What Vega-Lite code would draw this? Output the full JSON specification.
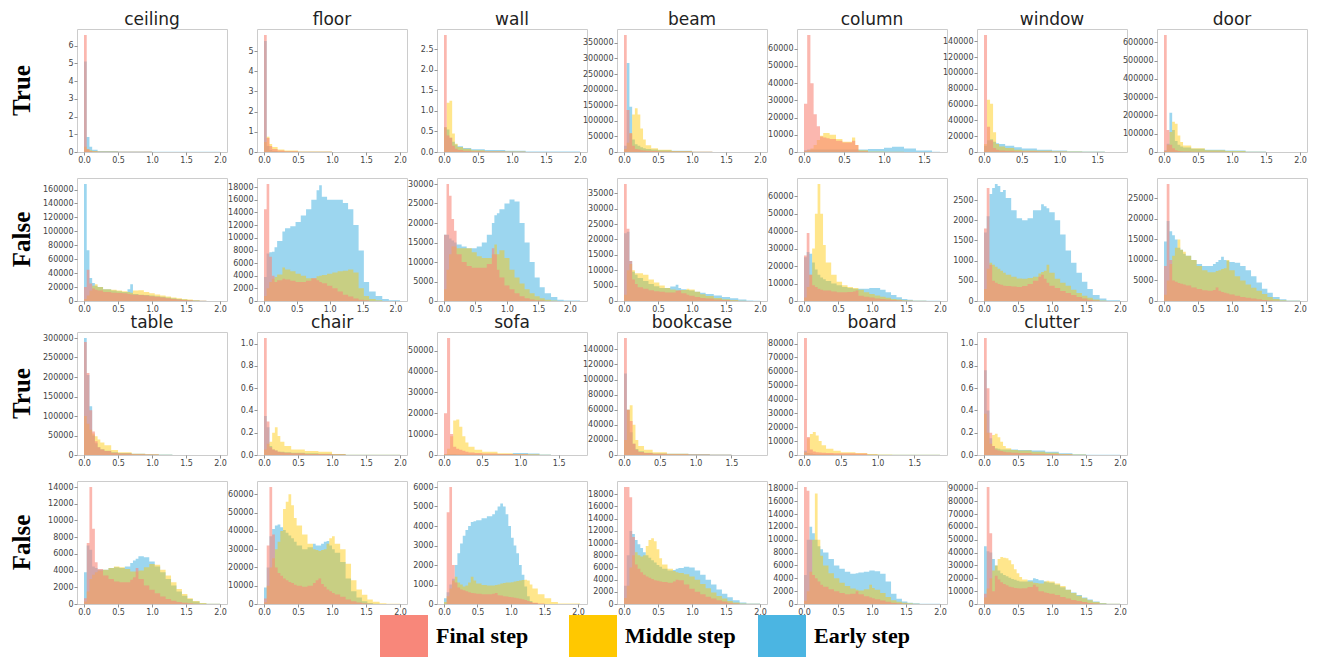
{
"$schema": "https://vega.github.io/schema/vega-lite/v6.json",
"background": "white",
"padding": {"left": 10, "top": 11, "right": 5, "bottom": 5},
"data": {"values": [
{"c":"ceiling","t":"True","x":0,"r":6.6,"m":0.3,"e":5.1},
{"c":"ceiling","t":"True","x":0.04,"r":0.15,"m":0.15,"e":0.85},
{"c":"ceiling","t":"True","x":0.08,"r":0.05,"m":0.1,"e":0.3},
{"c":"ceiling","t":"True","x":0.12,"r":0.03,"m":0.06,"e":0.12},
{"c":"ceiling","t":"True","x":0.2,"r":0.02,"m":0.03,"e":0.05},
{"c":"ceiling","t":"True","x":0.5,"r":0.01,"m":0.01,"e":0.03},
{"c":"ceiling","t":"True","x":1.0,"r":0,"m":0,"e":0.01},
{"c":"ceiling","t":"True","x":2.0,"r":0,"m":0,"e":0},
{"c":"floor","t":"True","x":0,"r":5.8,"m":0.5,"e":5.5},
{"c":"floor","t":"True","x":0.04,"r":0.7,"m":0.75,"e":0.3},
{"c":"floor","t":"True","x":0.08,"r":0.3,"m":0.4,"e":0.1},
{"c":"floor","t":"True","x":0.12,"r":0.15,"m":0.25,"e":0.05},
{"c":"floor","t":"True","x":0.2,"r":0.08,"m":0.12,"e":0.03},
{"c":"floor","t":"True","x":0.3,"r":0.04,"m":0.07,"e":0.02},
{"c":"floor","t":"True","x":0.5,"r":0.01,"m":0.02,"e":0.01},
{"c":"floor","t":"True","x":1.0,"r":0,"m":0.005,"e":0},
{"c":"floor","t":"True","x":2.0,"r":0,"m":0,"e":0},
{"c":"wall","t":"True","x":0,"r":2.85,"m":0.6,"e":0.6},
{"c":"wall","t":"True","x":0.04,"r":0.4,"m":1.2,"e":0.55},
{"c":"wall","t":"True","x":0.08,"r":0.35,"m":1.25,"e":0.35},
{"c":"wall","t":"True","x":0.12,"r":0.15,"m":0.45,"e":0.25},
{"c":"wall","t":"True","x":0.16,"r":0.08,"m":0.2,"e":0.18},
{"c":"wall","t":"True","x":0.2,"r":0.05,"m":0.12,"e":0.14},
{"c":"wall","t":"True","x":0.28,"r":0.03,"m":0.08,"e":0.1},
{"c":"wall","t":"True","x":0.4,"r":0.02,"m":0.04,"e":0.07},
{"c":"wall","t":"True","x":0.6,"r":0.01,"m":0.02,"e":0.05},
{"c":"wall","t":"True","x":0.9,"r":0.005,"m":0.01,"e":0.03},
{"c":"wall","t":"True","x":1.2,"r":0,"m":0,"e":0.01},
{"c":"wall","t":"True","x":2.0,"r":0,"m":0,"e":0},
{"c":"beam","t":"True","x":0,"r":375000,"m":10000,"e":20000},
{"c":"beam","t":"True","x":0.04,"r":135000,"m":30000,"e":285000},
{"c":"beam","t":"True","x":0.08,"r":60000,"m":60000,"e":145000},
{"c":"beam","t":"True","x":0.12,"r":20000,"m":120000,"e":40000},
{"c":"beam","t":"True","x":0.16,"r":10000,"m":140000,"e":25000},
{"c":"beam","t":"True","x":0.2,"r":8000,"m":120000,"e":20000},
{"c":"beam","t":"True","x":0.24,"r":6000,"m":75000,"e":15000},
{"c":"beam","t":"True","x":0.28,"r":5000,"m":40000,"e":12000},
{"c":"beam","t":"True","x":0.32,"r":4000,"m":22000,"e":10000},
{"c":"beam","t":"True","x":0.4,"r":3000,"m":12000,"e":8000},
{"c":"beam","t":"True","x":0.5,"r":2000,"m":7000,"e":6000},
{"c":"beam","t":"True","x":0.7,"r":1500,"m":3000,"e":4000},
{"c":"beam","t":"True","x":1.0,"r":500,"m":1000,"e":1000},
{"c":"beam","t":"True","x":1.3,"r":0,"m":200,"e":200},
{"c":"beam","t":"True","x":2.0,"r":0,"m":0,"e":0},
{"c":"column","t":"True","x":0,"r":28000,"m":500,"e":1000},
{"c":"column","t":"True","x":0.04,"r":68000,"m":1000,"e":1500},
{"c":"column","t":"True","x":0.08,"r":40000,"m":2000,"e":1500},
{"c":"column","t":"True","x":0.12,"r":22000,"m":4000,"e":1500},
{"c":"column","t":"True","x":0.16,"r":15000,"m":7000,"e":1500},
{"c":"column","t":"True","x":0.2,"r":9000,"m":9500,"e":1500},
{"c":"column","t":"True","x":0.24,"r":8500,"m":11000,"e":1500},
{"c":"column","t":"True","x":0.28,"r":8000,"m":11000,"e":1500},
{"c":"column","t":"True","x":0.32,"r":7500,"m":10000,"e":1500},
{"c":"column","t":"True","x":0.4,"r":6500,"m":7500,"e":1500},
{"c":"column","t":"True","x":0.48,"r":5500,"m":6000,"e":1500},
{"c":"column","t":"True","x":0.6,"r":6500,"m":8500,"e":1500},
{"c":"column","t":"True","x":0.64,"r":4000,"m":4000,"e":1500},
{"c":"column","t":"True","x":0.68,"r":500,"m":1000,"e":1500},
{"c":"column","t":"True","x":0.8,"r":0,"m":300,"e":1800},
{"c":"column","t":"True","x":1.0,"r":0,"m":200,"e":2500},
{"c":"column","t":"True","x":1.1,"r":0,"m":100,"e":3000},
{"c":"column","t":"True","x":1.25,"r":0,"m":0,"e":2000},
{"c":"column","t":"True","x":1.4,"r":0,"m":0,"e":800},
{"c":"column","t":"True","x":1.6,"r":0,"m":0,"e":200},
{"c":"column","t":"True","x":1.7,"r":0,"m":0,"e":0},
{"c":"window","t":"True","x":0,"r":148000,"m":10000,"e":8000},
{"c":"window","t":"True","x":0.04,"r":32000,"m":66000,"e":15000},
{"c":"window","t":"True","x":0.08,"r":15000,"m":61000,"e":16000},
{"c":"window","t":"True","x":0.12,"r":5000,"m":25000,"e":13000},
{"c":"window","t":"True","x":0.16,"r":3000,"m":10000,"e":11000},
{"c":"window","t":"True","x":0.2,"r":2000,"m":7000,"e":10000},
{"c":"window","t":"True","x":0.28,"r":1500,"m":5000,"e":8000},
{"c":"window","t":"True","x":0.4,"r":1000,"m":3000,"e":6000},
{"c":"window","t":"True","x":0.5,"r":800,"m":2000,"e":4500},
{"c":"window","t":"True","x":0.7,"r":500,"m":1500,"e":3000},
{"c":"window","t":"True","x":0.9,"r":300,"m":1000,"e":2000},
{"c":"window","t":"True","x":1.1,"r":100,"m":500,"e":1000},
{"c":"window","t":"True","x":1.3,"r":0,"m":200,"e":500},
{"c":"window","t":"True","x":1.6,"r":0,"m":0,"e":100},
{"c":"window","t":"True","x":1.8,"r":0,"m":0,"e":0},
{"c":"door","t":"True","x":0,"r":640000,"m":5000,"e":10000},
{"c":"door","t":"True","x":0.04,"r":120000,"m":40000,"e":45000},
{"c":"door","t":"True","x":0.08,"r":40000,"m":110000,"e":215000},
{"c":"door","t":"True","x":0.12,"r":20000,"m":165000,"e":120000},
{"c":"door","t":"True","x":0.16,"r":10000,"m":155000,"e":60000},
{"c":"door","t":"True","x":0.2,"r":6000,"m":90000,"e":40000},
{"c":"door","t":"True","x":0.24,"r":4000,"m":55000,"e":30000},
{"c":"door","t":"True","x":0.28,"r":3000,"m":35000,"e":25000},
{"c":"door","t":"True","x":0.4,"r":2000,"m":20000,"e":18000},
{"c":"door","t":"True","x":0.6,"r":1000,"m":10000,"e":12000},
{"c":"door","t":"True","x":0.9,"r":500,"m":5000,"e":8000},
{"c":"door","t":"True","x":1.2,"r":0,"m":2000,"e":3000},
{"c":"door","t":"True","x":1.5,"r":0,"m":500,"e":500},
{"c":"door","t":"True","x":2.0,"r":0,"m":0,"e":0},
{"c":"ceiling","t":"False","x":0,"r":20000,"m":3000,"e":168000},
{"c":"ceiling","t":"False","x":0.04,"r":45000,"m":8000,"e":73000},
{"c":"ceiling","t":"False","x":0.08,"r":25000,"m":15000,"e":33000},
{"c":"ceiling","t":"False","x":0.12,"r":18000,"m":22000,"e":26000},
{"c":"ceiling","t":"False","x":0.16,"r":16000,"m":24000,"e":22000},
{"c":"ceiling","t":"False","x":0.2,"r":15000,"m":20000,"e":20000},
{"c":"ceiling","t":"False","x":0.28,"r":13000,"m":17000,"e":17000},
{"c":"ceiling","t":"False","x":0.4,"r":12000,"m":16000,"e":15000},
{"c":"ceiling","t":"False","x":0.48,"r":11500,"m":15000,"e":14000},
{"c":"ceiling","t":"False","x":0.56,"r":11000,"m":14000,"e":13000},
{"c":"ceiling","t":"False","x":0.64,"r":10000,"m":13000,"e":17000},
{"c":"ceiling","t":"False","x":0.68,"r":9500,"m":12000,"e":24000},
{"c":"ceiling","t":"False","x":0.72,"r":9000,"m":15000,"e":10000},
{"c":"ceiling","t":"False","x":0.8,"r":8500,"m":15500,"e":9000},
{"c":"ceiling","t":"False","x":0.88,"r":8000,"m":13000,"e":8500},
{"c":"ceiling","t":"False","x":0.96,"r":7000,"m":11000,"e":8000},
{"c":"ceiling","t":"False","x":1.04,"r":6000,"m":9500,"e":7000},
{"c":"ceiling","t":"False","x":1.12,"r":5000,"m":8000,"e":6000},
{"c":"ceiling","t":"False","x":1.2,"r":4000,"m":6500,"e":5000},
{"c":"ceiling","t":"False","x":1.28,"r":3000,"m":5000,"e":4000},
{"c":"ceiling","t":"False","x":1.36,"r":2000,"m":4000,"e":3000},
{"c":"ceiling","t":"False","x":1.44,"r":1500,"m":3000,"e":2000},
{"c":"ceiling","t":"False","x":1.52,"r":1000,"m":2000,"e":1500},
{"c":"ceiling","t":"False","x":1.6,"r":500,"m":1000,"e":1000},
{"c":"ceiling","t":"False","x":1.7,"r":200,"m":400,"e":400},
{"c":"ceiling","t":"False","x":1.8,"r":0,"m":100,"e":100},
{"c":"ceiling","t":"False","x":2.0,"r":0,"m":0,"e":0},
{"c":"floor","t":"False","x":0,"r":14500,"m":800,"e":3800},
{"c":"floor","t":"False","x":0.04,"r":18500,"m":2000,"e":7500},
{"c":"floor","t":"False","x":0.08,"r":7000,"m":3000,"e":7700},
{"c":"floor","t":"False","x":0.12,"r":4000,"m":3500,"e":7800},
{"c":"floor","t":"False","x":0.16,"r":3000,"m":3800,"e":8500},
{"c":"floor","t":"False","x":0.2,"r":3300,"m":4200,"e":9500},
{"c":"floor","t":"False","x":0.28,"r":3500,"m":5300,"e":11000},
{"c":"floor","t":"False","x":0.32,"r":3400,"m":5000,"e":11500},
{"c":"floor","t":"False","x":0.4,"r":3200,"m":4700,"e":11800},
{"c":"floor","t":"False","x":0.48,"r":3000,"m":4300,"e":12500},
{"c":"floor","t":"False","x":0.56,"r":3000,"m":4000,"e":13500},
{"c":"floor","t":"False","x":0.64,"r":3200,"m":3600,"e":14500},
{"c":"floor","t":"False","x":0.72,"r":3600,"m":3600,"e":16000},
{"c":"floor","t":"False","x":0.8,"r":3300,"m":3900,"e":17500},
{"c":"floor","t":"False","x":0.84,"r":3000,"m":4000,"e":18300},
{"c":"floor","t":"False","x":0.88,"r":2800,"m":4100,"e":16500},
{"c":"floor","t":"False","x":0.96,"r":2400,"m":4300,"e":16000},
{"c":"floor","t":"False","x":1.04,"r":2000,"m":4500,"e":16000},
{"c":"floor","t":"False","x":1.12,"r":1500,"m":4700,"e":16000},
{"c":"floor","t":"False","x":1.2,"r":1000,"m":4800,"e":15500},
{"c":"floor","t":"False","x":1.28,"r":700,"m":5000,"e":14500},
{"c":"floor","t":"False","x":1.36,"r":400,"m":4500,"e":12000},
{"c":"floor","t":"False","x":1.44,"r":200,"m":2000,"e":8000},
{"c":"floor","t":"False","x":1.52,"r":100,"m":800,"e":3000},
{"c":"floor","t":"False","x":1.6,"r":0,"m":300,"e":1500},
{"c":"floor","t":"False","x":1.7,"r":0,"m":100,"e":800},
{"c":"floor","t":"False","x":1.8,"r":0,"m":0,"e":300},
{"c":"floor","t":"False","x":1.9,"r":0,"m":0,"e":100},
{"c":"floor","t":"False","x":2.07,"r":0,"m":0,"e":0},
{"c":"wall","t":"False","x":0,"r":17000,"m":3000,"e":17000},
{"c":"wall","t":"False","x":0.04,"r":30000,"m":8000,"e":17000},
{"c":"wall","t":"False","x":0.08,"r":27000,"m":12000,"e":16000},
{"c":"wall","t":"False","x":0.12,"r":21000,"m":14000,"e":15500},
{"c":"wall","t":"False","x":0.16,"r":18000,"m":14000,"e":15000},
{"c":"wall","t":"False","x":0.2,"r":12000,"m":13500,"e":14500},
{"c":"wall","t":"False","x":0.28,"r":10000,"m":13500,"e":14000},
{"c":"wall","t":"False","x":0.36,"r":9000,"m":13500,"e":13500},
{"c":"wall","t":"False","x":0.44,"r":8500,"m":12500,"e":13500},
{"c":"wall","t":"False","x":0.52,"r":8500,"m":11500,"e":14000},
{"c":"wall","t":"False","x":0.6,"r":8500,"m":11000,"e":15000},
{"c":"wall","t":"False","x":0.68,"r":9500,"m":11000,"e":17000},
{"c":"wall","t":"False","x":0.76,"r":13500,"m":12000,"e":20000},
{"c":"wall","t":"False","x":0.8,"r":12000,"m":14500,"e":22000},
{"c":"wall","t":"False","x":0.84,"r":8000,"m":12000,"e":22500},
{"c":"wall","t":"False","x":0.88,"r":6000,"m":13000,"e":23500},
{"c":"wall","t":"False","x":0.96,"r":4000,"m":11000,"e":25000},
{"c":"wall","t":"False","x":1.04,"r":3000,"m":8000,"e":26000},
{"c":"wall","t":"False","x":1.12,"r":2000,"m":6000,"e":25500},
{"c":"wall","t":"False","x":1.2,"r":1200,"m":4500,"e":20000},
{"c":"wall","t":"False","x":1.28,"r":700,"m":3000,"e":15000},
{"c":"wall","t":"False","x":1.36,"r":400,"m":2000,"e":10000},
{"c":"wall","t":"False","x":1.44,"r":200,"m":1200,"e":6000},
{"c":"wall","t":"False","x":1.52,"r":100,"m":700,"e":3500},
{"c":"wall","t":"False","x":1.6,"r":0,"m":300,"e":2000},
{"c":"wall","t":"False","x":1.7,"r":0,"m":100,"e":1000},
{"c":"wall","t":"False","x":1.8,"r":0,"m":0,"e":300},
{"c":"wall","t":"False","x":1.9,"r":0,"m":0,"e":100},
{"c":"wall","t":"False","x":2.16,"r":0,"m":0,"e":0},
{"c":"beam","t":"False","x":0,"r":38000,"m":2000,"e":22000},
{"c":"beam","t":"False","x":0.04,"r":23500,"m":10000,"e":22500},
{"c":"beam","t":"False","x":0.08,"r":13000,"m":12000,"e":13000},
{"c":"beam","t":"False","x":0.12,"r":7000,"m":10000,"e":9500},
{"c":"beam","t":"False","x":0.16,"r":5500,"m":9000,"e":8500},
{"c":"beam","t":"False","x":0.2,"r":4500,"m":9000,"e":7500},
{"c":"beam","t":"False","x":0.28,"r":4000,"m":8500,"e":6500},
{"c":"beam","t":"False","x":0.36,"r":3500,"m":7000,"e":5500},
{"c":"beam","t":"False","x":0.44,"r":3200,"m":6000,"e":4800},
{"c":"beam","t":"False","x":0.52,"r":3000,"m":5000,"e":4200},
{"c":"beam","t":"False","x":0.6,"r":2800,"m":4200,"e":4200},
{"c":"beam","t":"False","x":0.68,"r":2800,"m":3700,"e":4700},
{"c":"beam","t":"False","x":0.76,"r":3300,"m":3500,"e":5300},
{"c":"beam","t":"False","x":0.8,"r":3500,"m":3400,"e":4200},
{"c":"beam","t":"False","x":0.84,"r":2500,"m":3600,"e":3800},
{"c":"beam","t":"False","x":0.92,"r":2000,"m":4000,"e":3600},
{"c":"beam","t":"False","x":0.96,"r":1700,"m":3700,"e":3400},
{"c":"beam","t":"False","x":1.04,"r":1300,"m":3000,"e":3000},
{"c":"beam","t":"False","x":1.12,"r":1000,"m":2200,"e":2700},
{"c":"beam","t":"False","x":1.2,"r":800,"m":1600,"e":2300},
{"c":"beam","t":"False","x":1.32,"r":500,"m":1000,"e":1800},
{"c":"beam","t":"False","x":1.44,"r":300,"m":600,"e":1300},
{"c":"beam","t":"False","x":1.56,"r":100,"m":300,"e":900},
{"c":"beam","t":"False","x":1.68,"r":0,"m":100,"e":500},
{"c":"beam","t":"False","x":1.8,"r":0,"m":0,"e":200},
{"c":"beam","t":"False","x":1.9,"r":0,"m":0,"e":50},
{"c":"beam","t":"False","x":2.0,"r":0,"m":0,"e":0},
{"c":"column","t":"False","x":0,"r":26000,"m":2000,"e":25000},
{"c":"column","t":"False","x":0.04,"r":39000,"m":8000,"e":28000},
{"c":"column","t":"False","x":0.08,"r":15000,"m":15000,"e":27000},
{"c":"column","t":"False","x":0.12,"r":9000,"m":30000,"e":22000},
{"c":"column","t":"False","x":0.16,"r":8000,"m":50000,"e":18000},
{"c":"column","t":"False","x":0.2,"r":7000,"m":67000,"e":15000},
{"c":"column","t":"False","x":0.24,"r":6500,"m":50000,"e":13500},
{"c":"column","t":"False","x":0.28,"r":6000,"m":32000,"e":12500},
{"c":"column","t":"False","x":0.32,"r":6000,"m":22000,"e":11500},
{"c":"column","t":"False","x":0.4,"r":5500,"m":15000,"e":10000},
{"c":"column","t":"False","x":0.48,"r":5000,"m":11000,"e":9000},
{"c":"column","t":"False","x":0.56,"r":5000,"m":9000,"e":8000},
{"c":"column","t":"False","x":0.64,"r":5200,"m":8000,"e":7500},
{"c":"column","t":"False","x":0.72,"r":5500,"m":7500,"e":7000},
{"c":"column","t":"False","x":0.76,"r":6000,"m":7500,"e":7000},
{"c":"column","t":"False","x":0.8,"r":3000,"m":6500,"e":7000},
{"c":"column","t":"False","x":0.88,"r":2500,"m":5000,"e":7000},
{"c":"column","t":"False","x":0.96,"r":2000,"m":4000,"e":7500},
{"c":"column","t":"False","x":1.04,"r":1500,"m":3200,"e":7500},
{"c":"column","t":"False","x":1.12,"r":1200,"m":2500,"e":6500},
{"c":"column","t":"False","x":1.2,"r":900,"m":1800,"e":5000},
{"c":"column","t":"False","x":1.28,"r":600,"m":1200,"e":3500},
{"c":"column","t":"False","x":1.36,"r":400,"m":800,"e":2200},
{"c":"column","t":"False","x":1.44,"r":200,"m":500,"e":1200},
{"c":"column","t":"False","x":1.52,"r":100,"m":300,"e":700},
{"c":"column","t":"False","x":1.6,"r":0,"m":100,"e":300},
{"c":"column","t":"False","x":1.8,"r":0,"m":0,"e":100},
{"c":"column","t":"False","x":2.0,"r":0,"m":0,"e":0},
{"c":"window","t":"False","x":0,"r":1800,"m":300,"e":1700},
{"c":"window","t":"False","x":0.04,"r":2800,"m":800,"e":2100},
{"c":"window","t":"False","x":0.08,"r":900,"m":950,"e":2650},
{"c":"window","t":"False","x":0.12,"r":500,"m":900,"e":2800},
{"c":"window","t":"False","x":0.16,"r":450,"m":850,"e":2900},
{"c":"window","t":"False","x":0.2,"r":420,"m":800,"e":2850},
{"c":"window","t":"False","x":0.24,"r":400,"m":750,"e":2700},
{"c":"window","t":"False","x":0.28,"r":380,"m":700,"e":2750},
{"c":"window","t":"False","x":0.32,"r":370,"m":650,"e":2550},
{"c":"window","t":"False","x":0.4,"r":360,"m":600,"e":2250},
{"c":"window","t":"False","x":0.48,"r":350,"m":560,"e":2050},
{"c":"window","t":"False","x":0.56,"r":370,"m":550,"e":2000},
{"c":"window","t":"False","x":0.64,"r":420,"m":570,"e":2050},
{"c":"window","t":"False","x":0.72,"r":500,"m":600,"e":2250},
{"c":"window","t":"False","x":0.8,"r":600,"m":680,"e":2250},
{"c":"window","t":"False","x":0.84,"r":650,"m":720,"e":2400},
{"c":"window","t":"False","x":0.88,"r":550,"m":750,"e":2350},
{"c":"window","t":"False","x":0.92,"r":450,"m":900,"e":2300},
{"c":"window","t":"False","x":0.96,"r":380,"m":700,"e":2200},
{"c":"window","t":"False","x":1.04,"r":320,"m":550,"e":2000},
{"c":"window","t":"False","x":1.12,"r":250,"m":450,"e":1650},
{"c":"window","t":"False","x":1.2,"r":200,"m":380,"e":1250},
{"c":"window","t":"False","x":1.28,"r":150,"m":280,"e":950},
{"c":"window","t":"False","x":1.36,"r":100,"m":200,"e":700},
{"c":"window","t":"False","x":1.44,"r":60,"m":130,"e":480},
{"c":"window","t":"False","x":1.52,"r":30,"m":80,"e":300},
{"c":"window","t":"False","x":1.6,"r":10,"m":40,"e":150},
{"c":"window","t":"False","x":1.7,"r":0,"m":10,"e":60},
{"c":"window","t":"False","x":1.8,"r":0,"m":0,"e":20},
{"c":"window","t":"False","x":2.0,"r":0,"m":0,"e":0},
{"c":"door","t":"False","x":0,"r":8500,"m":1500,"e":14500},
{"c":"door","t":"False","x":0.04,"r":28500,"m":5000,"e":19500},
{"c":"door","t":"False","x":0.08,"r":10000,"m":9000,"e":17000},
{"c":"door","t":"False","x":0.12,"r":5000,"m":11000,"e":16000},
{"c":"door","t":"False","x":0.16,"r":4700,"m":13000,"e":15000},
{"c":"door","t":"False","x":0.2,"r":4400,"m":15000,"e":13000},
{"c":"door","t":"False","x":0.24,"r":4200,"m":12500,"e":12500},
{"c":"door","t":"False","x":0.28,"r":4000,"m":12000,"e":11500},
{"c":"door","t":"False","x":0.32,"r":3800,"m":11000,"e":11000},
{"c":"door","t":"False","x":0.4,"r":3300,"m":10000,"e":10000},
{"c":"door","t":"False","x":0.48,"r":2900,"m":8500,"e":9000},
{"c":"door","t":"False","x":0.56,"r":2600,"m":7500,"e":8500},
{"c":"door","t":"False","x":0.64,"r":2500,"m":7000,"e":8500},
{"c":"door","t":"False","x":0.72,"r":2700,"m":7000,"e":9000},
{"c":"door","t":"False","x":0.76,"r":3300,"m":7300,"e":9500},
{"c":"door","t":"False","x":0.8,"r":2500,"m":7500,"e":10000},
{"c":"door","t":"False","x":0.84,"r":2200,"m":7800,"e":10800},
{"c":"door","t":"False","x":0.88,"r":2000,"m":8000,"e":10000},
{"c":"door","t":"False","x":0.92,"r":1800,"m":10000,"e":9800},
{"c":"door","t":"False","x":0.96,"r":1600,"m":7500,"e":9500},
{"c":"door","t":"False","x":1.04,"r":1300,"m":6000,"e":9300},
{"c":"door","t":"False","x":1.12,"r":1000,"m":5000,"e":8500},
{"c":"door","t":"False","x":1.2,"r":800,"m":4000,"e":7500},
{"c":"door","t":"False","x":1.28,"r":600,"m":3200,"e":6000},
{"c":"door","t":"False","x":1.36,"r":400,"m":2500,"e":4500},
{"c":"door","t":"False","x":1.44,"r":250,"m":1700,"e":3000},
{"c":"door","t":"False","x":1.52,"r":100,"m":1000,"e":2000},
{"c":"door","t":"False","x":1.6,"r":50,"m":500,"e":1000},
{"c":"door","t":"False","x":1.7,"r":0,"m":200,"e":400},
{"c":"door","t":"False","x":1.8,"r":0,"m":50,"e":100},
{"c":"door","t":"False","x":2.0,"r":0,"m":0,"e":0},
{"c":"table","t":"True","x":0,"r":290000,"m":100000,"e":300000},
{"c":"table","t":"True","x":0.04,"r":210000,"m":80000,"e":205000},
{"c":"table","t":"True","x":0.08,"r":115000,"m":65000,"e":125000},
{"c":"table","t":"True","x":0.12,"r":60000,"m":55000,"e":50000},
{"c":"table","t":"True","x":0.16,"r":35000,"m":48000,"e":30000},
{"c":"table","t":"True","x":0.2,"r":20000,"m":40000,"e":20000},
{"c":"table","t":"True","x":0.24,"r":14000,"m":32000,"e":15000},
{"c":"table","t":"True","x":0.3,"r":10000,"m":25000,"e":11000},
{"c":"table","t":"True","x":0.4,"r":6000,"m":13000,"e":7000},
{"c":"table","t":"True","x":0.5,"r":4000,"m":7000,"e":5000},
{"c":"table","t":"True","x":0.7,"r":2000,"m":3500,"e":3000},
{"c":"table","t":"True","x":0.9,"r":1000,"m":2000,"e":2000},
{"c":"table","t":"True","x":1.1,"r":300,"m":800,"e":1000},
{"c":"table","t":"True","x":1.3,"r":0,"m":100,"e":200},
{"c":"table","t":"True","x":2.0,"r":0,"m":0,"e":0},
{"c":"chair","t":"True","x":0,"r":1.05,"m":0.05,"e":0.35},
{"c":"chair","t":"True","x":0.04,"r":0.3,"m":0.1,"e":0.25},
{"c":"chair","t":"True","x":0.08,"r":0.07,"m":0.12,"e":0.08},
{"c":"chair","t":"True","x":0.12,"r":0.05,"m":0.2,"e":0.05},
{"c":"chair","t":"True","x":0.16,"r":0.04,"m":0.25,"e":0.04},
{"c":"chair","t":"True","x":0.2,"r":0.03,"m":0.17,"e":0.03},
{"c":"chair","t":"True","x":0.24,"r":0.025,"m":0.12,"e":0.03},
{"c":"chair","t":"True","x":0.3,"r":0.02,"m":0.08,"e":0.025},
{"c":"chair","t":"True","x":0.4,"r":0.015,"m":0.05,"e":0.02},
{"c":"chair","t":"True","x":0.6,"r":0.01,"m":0.035,"e":0.015},
{"c":"chair","t":"True","x":0.8,"r":0.008,"m":0.03,"e":0.012},
{"c":"chair","t":"True","x":1.0,"r":0.005,"m":0.01,"e":0.008},
{"c":"chair","t":"True","x":1.2,"r":0,"m":0.003,"e":0.003},
{"c":"chair","t":"True","x":2.0,"r":0,"m":0,"e":0},
{"c":"sofa","t":"True","x":0,"r":20000,"m":500,"e":300},
{"c":"sofa","t":"True","x":0.04,"r":56000,"m":3000,"e":500},
{"c":"sofa","t":"True","x":0.08,"r":10000,"m":9000,"e":500},
{"c":"sofa","t":"True","x":0.12,"r":4000,"m":16500,"e":500},
{"c":"sofa","t":"True","x":0.16,"r":3000,"m":17000,"e":400},
{"c":"sofa","t":"True","x":0.2,"r":2500,"m":13500,"e":400},
{"c":"sofa","t":"True","x":0.24,"r":2000,"m":9000,"e":400},
{"c":"sofa","t":"True","x":0.28,"r":1500,"m":6000,"e":400},
{"c":"sofa","t":"True","x":0.32,"r":1200,"m":4000,"e":400},
{"c":"sofa","t":"True","x":0.4,"r":900,"m":2500,"e":400},
{"c":"sofa","t":"True","x":0.5,"r":700,"m":1500,"e":400},
{"c":"sofa","t":"True","x":0.7,"r":500,"m":800,"e":500},
{"c":"sofa","t":"True","x":0.9,"r":300,"m":500,"e":900},
{"c":"sofa","t":"True","x":1.1,"r":100,"m":300,"e":700},
{"c":"sofa","t":"True","x":1.25,"r":0,"m":100,"e":200},
{"c":"sofa","t":"True","x":1.4,"r":0,"m":0,"e":50},
{"c":"sofa","t":"True","x":1.78,"r":0,"m":0,"e":0},
{"c":"bookcase","t":"True","x":0,"r":155000,"m":20000,"e":108000},
{"c":"bookcase","t":"True","x":0.04,"r":60000,"m":60000,"e":60000},
{"c":"bookcase","t":"True","x":0.08,"r":45000,"m":66000,"e":30000},
{"c":"bookcase","t":"True","x":0.12,"r":15000,"m":40000,"e":15000},
{"c":"bookcase","t":"True","x":0.16,"r":7000,"m":20000,"e":8000},
{"c":"bookcase","t":"True","x":0.2,"r":4000,"m":12000,"e":5000},
{"c":"bookcase","t":"True","x":0.28,"r":2500,"m":7000,"e":3000},
{"c":"bookcase","t":"True","x":0.4,"r":1500,"m":3500,"e":2000},
{"c":"bookcase","t":"True","x":0.6,"r":1000,"m":1500,"e":1500},
{"c":"bookcase","t":"True","x":0.9,"r":500,"m":800,"e":1200},
{"c":"bookcase","t":"True","x":1.2,"r":200,"m":300,"e":600},
{"c":"bookcase","t":"True","x":1.5,"r":0,"m":100,"e":100},
{"c":"bookcase","t":"True","x":1.9,"r":0,"m":0,"e":0},
{"c":"board","t":"True","x":0,"r":84000,"m":2000,"e":3000},
{"c":"board","t":"True","x":0.04,"r":13000,"m":12000,"e":1500},
{"c":"board","t":"True","x":0.08,"r":4000,"m":15000,"e":1000},
{"c":"board","t":"True","x":0.12,"r":2500,"m":16500,"e":800},
{"c":"board","t":"True","x":0.16,"r":2000,"m":14000,"e":600},
{"c":"board","t":"True","x":0.2,"r":1800,"m":10000,"e":500},
{"c":"board","t":"True","x":0.24,"r":1600,"m":7000,"e":500},
{"c":"board","t":"True","x":0.3,"r":1400,"m":4500,"e":500},
{"c":"board","t":"True","x":0.4,"r":1300,"m":3000,"e":400},
{"c":"board","t":"True","x":0.5,"r":1200,"m":2000,"e":400},
{"c":"board","t":"True","x":0.7,"r":1100,"m":1500,"e":300},
{"c":"board","t":"True","x":0.86,"r":200,"m":800,"e":300},
{"c":"board","t":"True","x":1.0,"r":0,"m":300,"e":200},
{"c":"board","t":"True","x":1.2,"r":0,"m":100,"e":100},
{"c":"board","t":"True","x":1.85,"r":0,"m":0,"e":0},
{"c":"clutter","t":"True","x":0,"r":1.05,"m":0.37,"e":0.76},
{"c":"clutter","t":"True","x":0.04,"r":0.6,"m":0.2,"e":0.4},
{"c":"clutter","t":"True","x":0.08,"r":0.2,"m":0.1,"e":0.15},
{"c":"clutter","t":"True","x":0.12,"r":0.08,"m":0.18,"e":0.08},
{"c":"clutter","t":"True","x":0.16,"r":0.05,"m":0.19,"e":0.06},
{"c":"clutter","t":"True","x":0.2,"r":0.04,"m":0.16,"e":0.055},
{"c":"clutter","t":"True","x":0.24,"r":0.035,"m":0.12,"e":0.05},
{"c":"clutter","t":"True","x":0.28,"r":0.03,"m":0.08,"e":0.05},
{"c":"clutter","t":"True","x":0.32,"r":0.025,"m":0.06,"e":0.05},
{"c":"clutter","t":"True","x":0.4,"r":0.02,"m":0.045,"e":0.05},
{"c":"clutter","t":"True","x":0.5,"r":0.018,"m":0.04,"e":0.045},
{"c":"clutter","t":"True","x":0.7,"r":0.012,"m":0.03,"e":0.04},
{"c":"clutter","t":"True","x":0.9,"r":0.008,"m":0.02,"e":0.03},
{"c":"clutter","t":"True","x":1.1,"r":0.004,"m":0.01,"e":0.015},
{"c":"clutter","t":"True","x":1.3,"r":0.001,"m":0.004,"e":0.006},
{"c":"clutter","t":"True","x":1.5,"r":0,"m":0,"e":0.002},
{"c":"clutter","t":"True","x":2.0,"r":0,"m":0,"e":0},
{"c":"table","t":"False","x":0,"r":700,"m":300,"e":3800},
{"c":"table","t":"False","x":0.04,"r":7300,"m":1500,"e":7000},
{"c":"table","t":"False","x":0.08,"r":14000,"m":3000,"e":6500},
{"c":"table","t":"False","x":0.12,"r":9000,"m":3500,"e":4500},
{"c":"table","t":"False","x":0.16,"r":5000,"m":3800,"e":4300},
{"c":"table","t":"False","x":0.2,"r":4200,"m":4000,"e":4100},
{"c":"table","t":"False","x":0.28,"r":3400,"m":4100,"e":4100},
{"c":"table","t":"False","x":0.36,"r":3000,"m":4300,"e":4300},
{"c":"table","t":"False","x":0.44,"r":2700,"m":4500,"e":4400},
{"c":"table","t":"False","x":0.52,"r":2600,"m":4400,"e":4300},
{"c":"table","t":"False","x":0.6,"r":2600,"m":4200,"e":4500},
{"c":"table","t":"False","x":0.68,"r":2900,"m":3900,"e":4900},
{"c":"table","t":"False","x":0.72,"r":3200,"m":3900,"e":5200},
{"c":"table","t":"False","x":0.76,"r":4300,"m":3900,"e":5400},
{"c":"table","t":"False","x":0.8,"r":3000,"m":4000,"e":5700},
{"c":"table","t":"False","x":0.88,"r":2200,"m":4400,"e":5600},
{"c":"table","t":"False","x":0.96,"r":1700,"m":4800,"e":5100},
{"c":"table","t":"False","x":1.04,"r":1300,"m":4700,"e":4500},
{"c":"table","t":"False","x":1.12,"r":900,"m":4100,"e":3800},
{"c":"table","t":"False","x":1.2,"r":600,"m":3400,"e":3000},
{"c":"table","t":"False","x":1.28,"r":400,"m":2600,"e":2200},
{"c":"table","t":"False","x":1.36,"r":250,"m":1800,"e":1500},
{"c":"table","t":"False","x":1.44,"r":150,"m":1200,"e":1000},
{"c":"table","t":"False","x":1.52,"r":80,"m":700,"e":600},
{"c":"table","t":"False","x":1.6,"r":30,"m":350,"e":300},
{"c":"table","t":"False","x":1.7,"r":0,"m":120,"e":100},
{"c":"table","t":"False","x":1.8,"r":0,"m":30,"e":30},
{"c":"table","t":"False","x":2.0,"r":0,"m":0,"e":0},
{"c":"chair","t":"False","x":0,"r":3000,"m":1000,"e":9000},
{"c":"chair","t":"False","x":0.04,"r":32000,"m":10000,"e":20000},
{"c":"chair","t":"False","x":0.08,"r":64000,"m":20000,"e":37000},
{"c":"chair","t":"False","x":0.12,"r":38000,"m":25000,"e":41000},
{"c":"chair","t":"False","x":0.16,"r":20000,"m":30000,"e":43000},
{"c":"chair","t":"False","x":0.2,"r":17000,"m":34000,"e":43500},
{"c":"chair","t":"False","x":0.24,"r":15500,"m":40000,"e":42000},
{"c":"chair","t":"False","x":0.28,"r":14000,"m":52000,"e":40500},
{"c":"chair","t":"False","x":0.32,"r":13000,"m":56000,"e":39000},
{"c":"chair","t":"False","x":0.36,"r":12000,"m":60000,"e":37500},
{"c":"chair","t":"False","x":0.4,"r":11500,"m":54000,"e":36000},
{"c":"chair","t":"False","x":0.44,"r":10500,"m":47000,"e":34000},
{"c":"chair","t":"False","x":0.48,"r":10000,"m":43000,"e":32000},
{"c":"chair","t":"False","x":0.56,"r":9500,"m":38000,"e":30000},
{"c":"chair","t":"False","x":0.64,"r":10000,"m":33000,"e":31000},
{"c":"chair","t":"False","x":0.72,"r":11500,"m":30000,"e":33000},
{"c":"chair","t":"False","x":0.76,"r":13000,"m":29500,"e":32000},
{"c":"chair","t":"False","x":0.8,"r":14000,"m":29000,"e":32000},
{"c":"chair","t":"False","x":0.84,"r":11000,"m":29500,"e":33000},
{"c":"chair","t":"False","x":0.88,"r":9500,"m":30000,"e":34000},
{"c":"chair","t":"False","x":0.92,"r":8000,"m":33000,"e":34500},
{"c":"chair","t":"False","x":0.96,"r":7000,"m":36000,"e":32000},
{"c":"chair","t":"False","x":1.0,"r":6000,"m":37000,"e":30000},
{"c":"chair","t":"False","x":1.04,"r":5200,"m":33000,"e":28000},
{"c":"chair","t":"False","x":1.12,"r":4000,"m":30000,"e":23000},
{"c":"chair","t":"False","x":1.2,"r":2500,"m":22000,"e":14000},
{"c":"chair","t":"False","x":1.28,"r":1500,"m":13000,"e":7000},
{"c":"chair","t":"False","x":1.36,"r":800,"m":8000,"e":3500},
{"c":"chair","t":"False","x":1.44,"r":400,"m":5000,"e":1500},
{"c":"chair","t":"False","x":1.52,"r":200,"m":2500,"e":500},
{"c":"chair","t":"False","x":1.6,"r":50,"m":1200,"e":200},
{"c":"chair","t":"False","x":1.7,"r":0,"m":400,"e":50},
{"c":"chair","t":"False","x":1.8,"r":0,"m":100,"e":0},
{"c":"chair","t":"False","x":2.0,"r":0,"m":0,"e":0},
{"c":"sofa","t":"False","x":0,"r":0,"m":100,"e":300},
{"c":"sofa","t":"False","x":0.04,"r":4700,"m":400,"e":600},
{"c":"sofa","t":"False","x":0.08,"r":6000,"m":800,"e":1000},
{"c":"sofa","t":"False","x":0.12,"r":2000,"m":1200,"e":1300},
{"c":"sofa","t":"False","x":0.16,"r":1100,"m":1400,"e":2000},
{"c":"sofa","t":"False","x":0.2,"r":850,"m":1100,"e":2600},
{"c":"sofa","t":"False","x":0.24,"r":750,"m":1000,"e":3100},
{"c":"sofa","t":"False","x":0.28,"r":700,"m":900,"e":3500},
{"c":"sofa","t":"False","x":0.32,"r":650,"m":950,"e":3800},
{"c":"sofa","t":"False","x":0.36,"r":600,"m":1100,"e":4000},
{"c":"sofa","t":"False","x":0.4,"r":570,"m":1400,"e":4200},
{"c":"sofa","t":"False","x":0.44,"r":550,"m":1200,"e":4250},
{"c":"sofa","t":"False","x":0.48,"r":530,"m":1050,"e":4300},
{"c":"sofa","t":"False","x":0.56,"r":500,"m":980,"e":4400},
{"c":"sofa","t":"False","x":0.64,"r":500,"m":950,"e":4500},
{"c":"sofa","t":"False","x":0.72,"r":520,"m":950,"e":4600},
{"c":"sofa","t":"False","x":0.76,"r":560,"m":980,"e":4800},
{"c":"sofa","t":"False","x":0.8,"r":450,"m":1000,"e":5000},
{"c":"sofa","t":"False","x":0.84,"r":430,"m":1050,"e":5150},
{"c":"sofa","t":"False","x":0.88,"r":400,"m":1080,"e":5000},
{"c":"sofa","t":"False","x":0.92,"r":380,"m":1100,"e":4600},
{"c":"sofa","t":"False","x":0.96,"r":360,"m":1100,"e":4000},
{"c":"sofa","t":"False","x":1.0,"r":340,"m":1120,"e":3400},
{"c":"sofa","t":"False","x":1.04,"r":320,"m":1150,"e":3000},
{"c":"sofa","t":"False","x":1.08,"r":300,"m":1180,"e":2600},
{"c":"sofa","t":"False","x":1.12,"r":270,"m":1200,"e":2000},
{"c":"sofa","t":"False","x":1.16,"r":240,"m":1230,"e":1500},
{"c":"sofa","t":"False","x":1.2,"r":200,"m":1250,"e":900},
{"c":"sofa","t":"False","x":1.24,"r":150,"m":1200,"e":400},
{"c":"sofa","t":"False","x":1.28,"r":100,"m":1000,"e":150},
{"c":"sofa","t":"False","x":1.32,"r":60,"m":800,"e":50},
{"c":"sofa","t":"False","x":1.4,"r":20,"m":500,"e":0},
{"c":"sofa","t":"False","x":1.5,"r":0,"m":300,"e":0},
{"c":"sofa","t":"False","x":1.6,"r":0,"m":100,"e":0},
{"c":"sofa","t":"False","x":1.7,"r":0,"m":20,"e":0},
{"c":"sofa","t":"False","x":2.03,"r":0,"m":0,"e":0},
{"c":"bookcase","t":"False","x":0,"r":19200,"m":1000,"e":3000},
{"c":"bookcase","t":"False","x":0.04,"r":19200,"m":3000,"e":8000},
{"c":"bookcase","t":"False","x":0.08,"r":17500,"m":6000,"e":12000},
{"c":"bookcase","t":"False","x":0.12,"r":11000,"m":8000,"e":11500},
{"c":"bookcase","t":"False","x":0.16,"r":6500,"m":8500,"e":10500},
{"c":"bookcase","t":"False","x":0.2,"r":5800,"m":8000,"e":9800},
{"c":"bookcase","t":"False","x":0.24,"r":5200,"m":7800,"e":9200},
{"c":"bookcase","t":"False","x":0.28,"r":4800,"m":8000,"e":8500},
{"c":"bookcase","t":"False","x":0.32,"r":4500,"m":9500,"e":8000},
{"c":"bookcase","t":"False","x":0.36,"r":4300,"m":10500,"e":7600},
{"c":"bookcase","t":"False","x":0.4,"r":4100,"m":10800,"e":7200},
{"c":"bookcase","t":"False","x":0.44,"r":3900,"m":10300,"e":6800},
{"c":"bookcase","t":"False","x":0.48,"r":3800,"m":9000,"e":6400},
{"c":"bookcase","t":"False","x":0.52,"r":3700,"m":7500,"e":6100},
{"c":"bookcase","t":"False","x":0.56,"r":3600,"m":6500,"e":5800},
{"c":"bookcase","t":"False","x":0.64,"r":3500,"m":5800,"e":5500},
{"c":"bookcase","t":"False","x":0.72,"r":3700,"m":5400,"e":5600},
{"c":"bookcase","t":"False","x":0.76,"r":4000,"m":5200,"e":5800},
{"c":"bookcase","t":"False","x":0.8,"r":3900,"m":5100,"e":5900},
{"c":"bookcase","t":"False","x":0.88,"r":3200,"m":4900,"e":6100},
{"c":"bookcase","t":"False","x":0.96,"r":2500,"m":4500,"e":6000},
{"c":"bookcase","t":"False","x":1.04,"r":2000,"m":4000,"e":5500},
{"c":"bookcase","t":"False","x":1.12,"r":1600,"m":3300,"e":4800},
{"c":"bookcase","t":"False","x":1.2,"r":1200,"m":2600,"e":4000},
{"c":"bookcase","t":"False","x":1.28,"r":900,"m":1900,"e":3200},
{"c":"bookcase","t":"False","x":1.36,"r":600,"m":1300,"e":2400},
{"c":"bookcase","t":"False","x":1.44,"r":400,"m":900,"e":1700},
{"c":"bookcase","t":"False","x":1.52,"r":200,"m":500,"e":1100},
{"c":"bookcase","t":"False","x":1.6,"r":100,"m":250,"e":600},
{"c":"bookcase","t":"False","x":1.7,"r":0,"m":100,"e":250},
{"c":"bookcase","t":"False","x":1.8,"r":0,"m":30,"e":80},
{"c":"bookcase","t":"False","x":2.0,"r":0,"m":0,"e":0},
{"c":"board","t":"False","x":0,"r":18200,"m":500,"e":4500},
{"c":"board","t":"False","x":0.04,"r":17600,"m":2000,"e":10000},
{"c":"board","t":"False","x":0.08,"r":10000,"m":5000,"e":12000},
{"c":"board","t":"False","x":0.12,"r":4500,"m":10000,"e":11000},
{"c":"board","t":"False","x":0.16,"r":4000,"m":17200,"e":10000},
{"c":"board","t":"False","x":0.2,"r":3500,"m":10000,"e":9000},
{"c":"board","t":"False","x":0.24,"r":3000,"m":7500,"e":8500},
{"c":"board","t":"False","x":0.28,"r":2700,"m":6000,"e":8000},
{"c":"board","t":"False","x":0.36,"r":2300,"m":4800,"e":7000},
{"c":"board","t":"False","x":0.44,"r":2000,"m":4000,"e":6000},
{"c":"board","t":"False","x":0.52,"r":1700,"m":3300,"e":5500},
{"c":"board","t":"False","x":0.6,"r":1500,"m":2800,"e":5000},
{"c":"board","t":"False","x":0.68,"r":1600,"m":2400,"e":4700},
{"c":"board","t":"False","x":0.76,"r":2000,"m":2200,"e":4800},
{"c":"board","t":"False","x":0.8,"r":1500,"m":2100,"e":4900},
{"c":"board","t":"False","x":0.88,"r":1200,"m":2300,"e":5000},
{"c":"board","t":"False","x":0.96,"r":1000,"m":3000,"e":5200},
{"c":"board","t":"False","x":1.0,"r":900,"m":2500,"e":5200},
{"c":"board","t":"False","x":1.04,"r":750,"m":2200,"e":5100},
{"c":"board","t":"False","x":1.12,"r":550,"m":1700,"e":4700},
{"c":"board","t":"False","x":1.2,"r":350,"m":1100,"e":3500},
{"c":"board","t":"False","x":1.28,"r":200,"m":600,"e":1600},
{"c":"board","t":"False","x":1.36,"r":100,"m":350,"e":800},
{"c":"board","t":"False","x":1.44,"r":50,"m":200,"e":400},
{"c":"board","t":"False","x":1.52,"r":0,"m":100,"e":200},
{"c":"board","t":"False","x":1.6,"r":0,"m":50,"e":100},
{"c":"board","t":"False","x":1.7,"r":0,"m":0,"e":40},
{"c":"board","t":"False","x":2.0,"r":0,"m":0,"e":0},
{"c":"clutter","t":"False","x":0,"r":8000,"m":5000,"e":45000},
{"c":"clutter","t":"False","x":0.04,"r":91000,"m":12000,"e":41000},
{"c":"clutter","t":"False","x":0.08,"r":55000,"m":20000,"e":40000},
{"c":"clutter","t":"False","x":0.12,"r":10000,"m":26000,"e":35000},
{"c":"clutter","t":"False","x":0.16,"r":22000,"m":30000,"e":30000},
{"c":"clutter","t":"False","x":0.2,"r":19000,"m":35000,"e":26000},
{"c":"clutter","t":"False","x":0.24,"r":17000,"m":36500,"e":24000},
{"c":"clutter","t":"False","x":0.28,"r":15500,"m":36000,"e":22500},
{"c":"clutter","t":"False","x":0.32,"r":14500,"m":35500,"e":21500},
{"c":"clutter","t":"False","x":0.36,"r":13500,"m":34000,"e":20500},
{"c":"clutter","t":"False","x":0.4,"r":13000,"m":31000,"e":19500},
{"c":"clutter","t":"False","x":0.44,"r":12500,"m":27000,"e":18800},
{"c":"clutter","t":"False","x":0.48,"r":12200,"m":24000,"e":18000},
{"c":"clutter","t":"False","x":0.52,"r":12000,"m":21000,"e":17500},
{"c":"clutter","t":"False","x":0.56,"r":12200,"m":19000,"e":17500},
{"c":"clutter","t":"False","x":0.64,"r":13200,"m":17500,"e":18500},
{"c":"clutter","t":"False","x":0.72,"r":15000,"m":16500,"e":20000},
{"c":"clutter","t":"False","x":0.76,"r":13500,"m":16300,"e":19500},
{"c":"clutter","t":"False","x":0.8,"r":10000,"m":16000,"e":18500},
{"c":"clutter","t":"False","x":0.88,"r":9000,"m":17500,"e":17500},
{"c":"clutter","t":"False","x":0.92,"r":8500,"m":18000,"e":17000},
{"c":"clutter","t":"False","x":0.96,"r":8000,"m":17500,"e":16500},
{"c":"clutter","t":"False","x":1.04,"r":7000,"m":16000,"e":15000},
{"c":"clutter","t":"False","x":1.12,"r":5500,"m":14000,"e":13000},
{"c":"clutter","t":"False","x":1.2,"r":4200,"m":11000,"e":11000},
{"c":"clutter","t":"False","x":1.28,"r":3200,"m":8500,"e":9000},
{"c":"clutter","t":"False","x":1.36,"r":2300,"m":6500,"e":7000},
{"c":"clutter","t":"False","x":1.44,"r":1500,"m":4500,"e":5000},
{"c":"clutter","t":"False","x":1.52,"r":800,"m":3000,"e":3500},
{"c":"clutter","t":"False","x":1.6,"r":300,"m":1500,"e":2000},
{"c":"clutter","t":"False","x":1.7,"r":0,"m":500,"e":800},
{"c":"clutter","t":"False","x":1.8,"r":0,"m":100,"e":200},
{"c":"clutter","t":"False","x":2.0,"r":0,"m":0,"e":0}
]},
"vconcat": [
{
"transform": [{"filter": {"field": "c", "oneOf": ["ceiling","floor","wall","beam","column","window","door"]}}],
"bounds": "flush",
"spacing": {"row": 26, "column": 30},
"facet": {
 "row": {"field": "t", "type": "nominal", "sort": ["True","False"], "title": null},
 "column": {"field": "c", "type": "nominal", "sort": ["ceiling","floor","wall","beam","column","window","door"], "title": null}
},
"resolve": {"scale": {"x": "independent", "y": "independent"}},
"spec": {
 "width": 150, "height": 123,
 "layer": [
  {"mark": {"type": "area", "interpolate": "step-after", "opacity": 0.55},
   "encoding": {
    "x": {"field": "x", "type": "quantitative", "title": null, "scale": {"nice": false, "zero": false, "padding": 7}, "axis": {"format": ".1f", "tickCount": 5}},
    "y": {"field": "e", "type": "quantitative", "stack": null, "title": null, "scale": {"nice": false, "zero": true, "range": [123, 6]}, "axis": {"format": "f", "tickCount": 7}},
    "color": {"datum": "Early step", "type": "nominal", "scale": {"domain": ["Final step","Middle step","Early step"], "range": ["#F8877A","#FFC800","#4BB5E2"]}}
   }},
  {"mark": {"type": "area", "interpolate": "step-after", "opacity": 0.45},
   "encoding": {
    "x": {"field": "x", "type": "quantitative", "title": null},
    "y": {"field": "m", "type": "quantitative", "stack": null, "title": null},
    "color": {"datum": "Middle step", "type": "nominal"}
   }},
  {"mark": {"type": "area", "interpolate": "step-after", "opacity": 0.6},
   "encoding": {
    "x": {"field": "x", "type": "quantitative", "title": null},
    "y": {"field": "r", "type": "quantitative", "stack": null, "title": null},
    "color": {"datum": "Final step", "type": "nominal"}
   }}
 ]
}
},
{
"transform": [{"filter": {"field": "c", "oneOf": ["table","chair","sofa","bookcase","board","clutter"]}}],
"bounds": "flush",
"spacing": {"row": 26, "column": 30},
"facet": {
 "row": {"field": "t", "type": "nominal", "sort": ["True","False"], "title": null},
 "column": {"field": "c", "type": "nominal", "sort": ["table","chair","sofa","bookcase","board","clutter"], "title": null}
},
"resolve": {"scale": {"x": "independent", "y": "independent"}},
"spec": {
 "width": 150, "height": 123,
 "layer": [
  {"mark": {"type": "area", "interpolate": "step-after", "opacity": 0.55},
   "encoding": {
    "x": {"field": "x", "type": "quantitative", "title": null, "scale": {"nice": false, "zero": false, "padding": 7}, "axis": {"format": ".1f", "tickCount": 5}},
    "y": {"field": "e", "type": "quantitative", "stack": null, "title": null, "scale": {"nice": false, "zero": true, "range": [123, 6]}, "axis": {"format": "f", "tickCount": 7}},
    "color": {"datum": "Early step", "type": "nominal"}
   }},
  {"mark": {"type": "area", "interpolate": "step-after", "opacity": 0.45},
   "encoding": {
    "x": {"field": "x", "type": "quantitative", "title": null},
    "y": {"field": "m", "type": "quantitative", "stack": null, "title": null},
    "color": {"datum": "Middle step", "type": "nominal"}
   }},
  {"mark": {"type": "area", "interpolate": "step-after", "opacity": 0.6},
   "encoding": {
    "x": {"field": "x", "type": "quantitative", "title": null},
    "y": {"field": "r", "type": "quantitative", "stack": null, "title": null},
    "color": {"datum": "Final step", "type": "nominal"}
   }}
 ]
}
}
],
"spacing": 0,
"config": {
 "view": {"stroke": "#cccccc", "strokeWidth": 1},
 "axis": {"domain": false, "grid": false, "tickSize": 3, "tickColor": "#777777", "tickWidth": 0.8, "labelFontSize": 8, "labelColor": "#444444", "labelFont": "DejaVu Sans", "labelPadding": 1},
 "axisX": {"labelFlush": false},
 "axisY": {"labelFlush": false},
 "headerColumn": {"labelFontSize": 17, "labelFont": "DejaVu Sans", "labelColor": "#222222", "labelPadding": 0},
 "headerRow": {"labelFontSize": 25, "labelFont": "Liberation Serif", "labelFontWeight": "bold", "labelColor": "#000000", "labelPadding": 42},
 "legend": {"title": null, "orient": "none", "legendX": 303, "legendY": 583, "direction": "horizontal", "symbolType": "M-1,-0.875H1V0.875H-1Z", "symbolSize": 2304, "symbolOpacity": 1, "symbolStrokeWidth": 0, "labelFont": "Liberation Serif", "labelFontWeight": "bold", "labelFontSize": 22, "labelColor": "#000000", "labelOffset": 8, "columnPadding": 22, "gridAlign": "all", "labelLimit": 300}
}
}
